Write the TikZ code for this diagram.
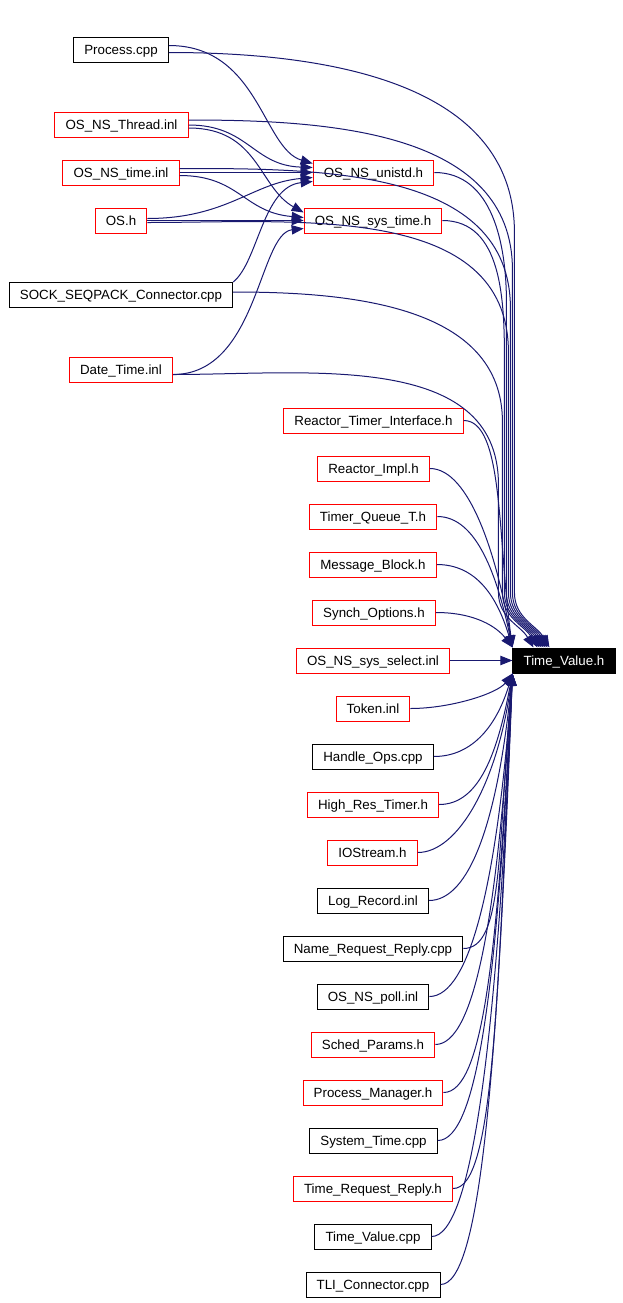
\documentclass[tikz,border=0pt]{standalone}
\usepackage{fontspec}
\setmainfont{Liberation Sans}
\usetikzlibrary{arrows.meta, calc}
\definecolor{edgeBlue}{HTML}{191970}
\definecolor{docRed}{HTML}{FF0000}

\begin{document}
\begin{tikzpicture}[x=0.75pt, y=-0.75pt,
    font=\fontsize{10pt}{12pt}\selectfont,
    file/.style={rectangle, draw=black, line width=0.75pt, fill=white,
      minimum height=18.75pt, inner xsep=8pt, inner ysep=2pt,
      text height=7.2pt, text depth=0pt},
    redfile/.style={file, draw=docRed},
    dep/.style={draw=edgeBlue, line width=0.75pt,
      -{Triangle[length=9pt, width=7pt]}}]
    \useasboundingbox (0,0) rectangle (623,1303);
    % --- left column: files that include the headers ---
    \node[file] (proc) at (121,49.5) {Process.cpp};
    \node[redfile] (thr) at (121.5,125) {OS\_NS\_Thread.inl};
    \node[redfile] (nstime) at (121,172.5) {OS\_NS\_time.inl};
    \node[redfile] (osh) at (121,220.5) {OS.h};
    \node[file] (sock) at (121,295) {SOCK\_SEQPACK\_Connector.cpp};
    \node[redfile] (dtime) at (121,369.5) {Date\_Time.inl};
    % --- middle column ---
    \node[redfile] (unistd) at (373.5,172.5) {OS\_NS\_unistd.h};
    \node[redfile] (systime) at (373,220.5) {OS\_NS\_sys\_time.h};
    \node[redfile] (rti) at (373.5,420.5) {Reactor\_Timer\_Interface.h};
    \node[redfile] (rimpl) at (373.5,468.5) {Reactor\_Impl.h};
    \node[redfile] (tqt) at (373,516.5) {Timer\_Queue\_T.h};
    \node[redfile] (mblk) at (373,564.5) {Message\_Block.h};
    \node[redfile] (sopt) at (374,612.5) {Synch\_Options.h};
    \node[redfile] (ssel) at (373,660.5) {OS\_NS\_sys\_select.inl};
    \node[redfile] (tok) at (373,708.5) {Token.inl};
    \node[file] (hops) at (373,756.5) {Handle\_Ops.cpp};
    \node[redfile] (hrt) at (373,804.5) {High\_Res\_Timer.h};
    \node[redfile] (ios) at (372.5,852.5) {IOStream.h};
    \node[file] (logr) at (373,900.5) {Log\_Record.inl};
    \node[file] (nrr) at (373,948.5) {Name\_Request\_Reply.cpp};
    \node[file] (poll) at (373,996.5) {OS\_NS\_poll.inl};
    \node[redfile] (sched) at (373,1044.5) {Sched\_Params.h};
    \node[redfile] (pmgr) at (373,1092.5) {Process\_Manager.h};
    \node[file] (systm) at (373.5,1140.5) {System\_Time.cpp};
    \node[redfile] (trr) at (373,1188.5) {Time\_Request\_Reply.h};
    \node[file] (tvcpp) at (373,1236.5) {Time\_Value.cpp};
    \node[file] (tli) at (373,1284.5) {TLI\_Connector.cpp};
    % --- the header itself ---
    \node[file, fill=black, text=white] (tv) at (564,660.5) {Time\_Value.h};

    % --- edges into OS_NS_unistd.h ---
    \draw[dep] ($(proc.east)+(0,-4)$) .. controls +(90,0) and +(-50,-15) .. ($(unistd.west)+(0,-9)$);
    \draw[dep] (thr.east) .. controls +(60,0) and +(-60,-2) .. ($(unistd.west)+(0,-5)$);
    \draw[dep] (nstime.east) -- (unistd.west);
    \draw[dep] ($(osh.east)+(0,-2)$) .. controls +(80,0) and +(-60,5) .. ($(unistd.west)+(0,5)$);
    \draw[dep] (sock.north east) .. controls +(25,-20) and +(-50,5) .. ($(unistd.west)+(0,9)$);
    % --- edges into OS_NS_sys_time.h ---
    \draw[dep] ($(thr.east)+(0,3)$) .. controls +(70,0) and +(-45,-25) .. ($(systime.west)+(0,-8)$);
    \draw[dep] ($(nstime.east)+(0,3)$) .. controls +(60,0) and +(-60,-5) .. ($(systime.west)+(0,-3)$);
    \draw[dep] (osh.east) -- (systime.west);
    \draw[dep] ($(dtime.east)+(0,5)$) .. controls +(85,0) and +(-45,5) .. ($(systime.west)+(0,8)$);

    % --- edges into Time_Value.h from the top ---
    \foreach \n/\dy/\l/\h in {proc/3/2/180, thr/-5/0/150, nstime/-4/-2/140, osh/2/-4/130,
        sock/-3/-10/130, dtime/5/-14/110, unistd/0/-6/130, systime/0/-8/140}
      \draw[dep] ($(\n.east)+(0,\dy)$) to[out=0, in=90] ($(\n.east -| tv.west)+(\l,\h+\dy)$)
        -- ($(tv.north west)+(\l,-55)$) to[out=-90, in=120] ($(tv.north west)+(35+\l,0)$);
    \foreach \n/\d in {rti/110, rimpl/90, tqt/70, mblk/50, sopt/20}
      \draw[dep] (\n.east) .. controls +(40,0) and +(-15,-\d) .. (tv.north west);
    \draw[dep] (ssel) -- (tv);
    % --- edges into Time_Value.h from below ---
    \foreach \n/\d in {tok/20, hops/50, hrt/80, ios/110, logr/150, nrr/180, poll/210,
        sched/240, pmgr/280, systm/310, trr/340, tvcpp/370, tli/400}
      \draw[dep] (\n.east) .. controls +(40,0) and +(-15,\d) .. (tv.south west);
\end{tikzpicture}
\end{document}
